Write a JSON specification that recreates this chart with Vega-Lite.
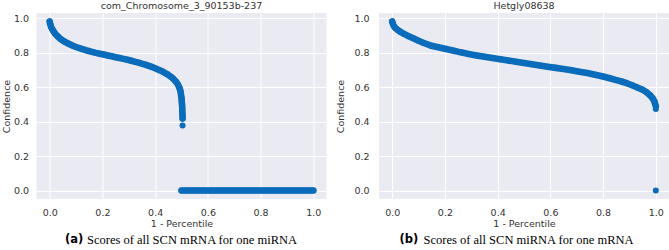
{
  "$schema": "https://vega.github.io/schema/vega-lite/v6.json",
  "padding": {"left": 0.5, "top": 0, "right": 0, "bottom": 0},
  "background": "white",
  "spacing": 52.5,
  "bounds": "flush",
  "config": {
    "view": {"fill": "#EAEAF2", "stroke": null},
    "axis": {"labelFont": "DejaVu Sans", "labelFontSize": 9.5, "labelColor": "#333333", "titleFont": "DejaVu Sans", "titleFontSize": 9.5, "titleFontWeight": "normal", "titleColor": "#333333", "gridColor": "#ffffff", "gridWidth": 1, "gridOpacity": 1, "domain": false, "ticks": false, "tickSize": 0, "labelOverlap": false, "labelBound": false},
    "title": {"font": "DejaVu Sans", "fontSize": 9.5, "fontWeight": "normal", "color": "#333333", "anchor": "middle", "offset": 3}
  },
  "datasets": {
    "a_curve": [
      {"x": 0, "c": 0.98}, {"x": 0.002, "c": 0.965}, {"x": 0.005, "c": 0.95}, {"x": 0.01, "c": 0.935}, {"x": 0.015, "c": 0.922},
      {"x": 0.02, "c": 0.91}, {"x": 0.03, "c": 0.894}, {"x": 0.04, "c": 0.88}, {"x": 0.05, "c": 0.869}, {"x": 0.06, "c": 0.86},
      {"x": 0.07, "c": 0.852}, {"x": 0.08, "c": 0.845}, {"x": 0.09, "c": 0.838}, {"x": 0.1, "c": 0.832}, {"x": 0.115, "c": 0.824},
      {"x": 0.13, "c": 0.817}, {"x": 0.145, "c": 0.81}, {"x": 0.16, "c": 0.804}, {"x": 0.175, "c": 0.798}, {"x": 0.19, "c": 0.793},
      {"x": 0.205, "c": 0.788}, {"x": 0.22, "c": 0.783}, {"x": 0.235, "c": 0.778}, {"x": 0.25, "c": 0.773}, {"x": 0.265, "c": 0.768},
      {"x": 0.28, "c": 0.763}, {"x": 0.295, "c": 0.758}, {"x": 0.31, "c": 0.752}, {"x": 0.325, "c": 0.746}, {"x": 0.34, "c": 0.74},
      {"x": 0.355, "c": 0.733}, {"x": 0.37, "c": 0.726}, {"x": 0.385, "c": 0.718}, {"x": 0.4, "c": 0.709}, {"x": 0.415, "c": 0.699},
      {"x": 0.43, "c": 0.688}, {"x": 0.445, "c": 0.675}, {"x": 0.46, "c": 0.659}, {"x": 0.47, "c": 0.646}, {"x": 0.48, "c": 0.629},
      {"x": 0.487, "c": 0.613}, {"x": 0.492, "c": 0.596}, {"x": 0.496, "c": 0.577}, {"x": 0.498, "c": 0.557}, {"x": 0.5, "c": 0.537},
      {"x": 0.501, "c": 0.517}, {"x": 0.502, "c": 0.497}, {"x": 0.503, "c": 0.477}, {"x": 0.503, "c": 0.457}, {"x": 0.504, "c": 0.437},
      {"x": 0.504, "c": 0.417}
    ],
    "a_iso": [{"x": 0.504, "c": 0.377}],
    "a_zero": [
      {"x": 0.5, "c": 0}, {"x": 0.51, "c": 0}, {"x": 0.52, "c": 0}, {"x": 0.53, "c": 0}, {"x": 0.54, "c": 0},
      {"x": 0.55, "c": 0}, {"x": 0.56, "c": 0}, {"x": 0.57, "c": 0}, {"x": 0.58, "c": 0}, {"x": 0.59, "c": 0},
      {"x": 0.6, "c": 0}, {"x": 0.61, "c": 0}, {"x": 0.62, "c": 0}, {"x": 0.63, "c": 0}, {"x": 0.64, "c": 0},
      {"x": 0.65, "c": 0}, {"x": 0.66, "c": 0}, {"x": 0.67, "c": 0}, {"x": 0.68, "c": 0}, {"x": 0.69, "c": 0},
      {"x": 0.7, "c": 0}, {"x": 0.71, "c": 0}, {"x": 0.72, "c": 0}, {"x": 0.73, "c": 0}, {"x": 0.74, "c": 0},
      {"x": 0.75, "c": 0}, {"x": 0.76, "c": 0}, {"x": 0.77, "c": 0}, {"x": 0.78, "c": 0}, {"x": 0.79, "c": 0},
      {"x": 0.8, "c": 0}, {"x": 0.81, "c": 0}, {"x": 0.82, "c": 0}, {"x": 0.83, "c": 0}, {"x": 0.84, "c": 0},
      {"x": 0.85, "c": 0}, {"x": 0.86, "c": 0}, {"x": 0.87, "c": 0}, {"x": 0.88, "c": 0}, {"x": 0.89, "c": 0},
      {"x": 0.9, "c": 0}, {"x": 0.91, "c": 0}, {"x": 0.92, "c": 0}, {"x": 0.93, "c": 0}, {"x": 0.94, "c": 0},
      {"x": 0.95, "c": 0}, {"x": 0.96, "c": 0}, {"x": 0.97, "c": 0}, {"x": 0.98, "c": 0}, {"x": 0.99, "c": 0},
      {"x": 1.0, "c": 0}
    ],
    "b_curve": [
      {"x": 0, "c": 0.98}, {"x": 0.003, "c": 0.965}, {"x": 0.007, "c": 0.952}, {"x": 0.012, "c": 0.942}, {"x": 0.02, "c": 0.932},
      {"x": 0.03, "c": 0.921}, {"x": 0.045, "c": 0.908}, {"x": 0.06, "c": 0.896}, {"x": 0.08, "c": 0.882}, {"x": 0.1, "c": 0.868},
      {"x": 0.12, "c": 0.855}, {"x": 0.145, "c": 0.841}, {"x": 0.17, "c": 0.832}, {"x": 0.2, "c": 0.822}, {"x": 0.23, "c": 0.812},
      {"x": 0.26, "c": 0.801}, {"x": 0.29, "c": 0.792}, {"x": 0.32, "c": 0.783}, {"x": 0.35, "c": 0.775}, {"x": 0.38, "c": 0.768},
      {"x": 0.41, "c": 0.761}, {"x": 0.44, "c": 0.754}, {"x": 0.47, "c": 0.746}, {"x": 0.5, "c": 0.739}, {"x": 0.53, "c": 0.732},
      {"x": 0.56, "c": 0.725}, {"x": 0.59, "c": 0.718}, {"x": 0.62, "c": 0.711}, {"x": 0.65, "c": 0.704}, {"x": 0.68, "c": 0.697},
      {"x": 0.71, "c": 0.689}, {"x": 0.74, "c": 0.681}, {"x": 0.77, "c": 0.671}, {"x": 0.8, "c": 0.661}, {"x": 0.825, "c": 0.651},
      {"x": 0.85, "c": 0.64}, {"x": 0.87, "c": 0.632}, {"x": 0.89, "c": 0.622}, {"x": 0.91, "c": 0.61}, {"x": 0.93, "c": 0.597},
      {"x": 0.95, "c": 0.584}, {"x": 0.965, "c": 0.57}, {"x": 0.978, "c": 0.552}, {"x": 0.988, "c": 0.535}, {"x": 0.994, "c": 0.518},
      {"x": 0.997, "c": 0.505}, {"x": 1.0, "c": 0.49}
    ],
    "b_iso": [{"x": 1.0, "c": 0.472}],
    "b_zero": [{"x": 1.0, "c": 0}]
  },
  "hconcat": [
    {
      "width": 290,
      "height": 186,
      "title": {"text": "com_Chromosome_3_90153b-237"},
      "layer": [
        {
          "data": {"name": "a_curve"},
          "mark": {"type": "line", "strokeWidth": 6.6, "strokeCap": "round", "strokeJoin": "round", "color": "#0a6cba",
                   "point": {"filled": true, "size": 36, "opacity": 1, "color": "#0a6cba"}},
          "encoding": {
            "x": {"field": "x", "type": "quantitative", "scale": {"domain": [-0.05, 1.05], "nice": false, "zero": false},
                  "axis": {"orient": "bottom", "title": "1 - Percentile", "values": [0, 0.2, 0.4, 0.6, 0.8, 1], "format": ".1f", "labelPadding": 8, "titlePadding": 2, "grid": true}},
            "y": {"field": "c", "type": "quantitative", "scale": {"domain": [-0.049, 1.029], "nice": false, "zero": false},
                  "axis": {"title": "Confidence", "values": [0, 0.2, 0.4, 0.6, 0.8, 1], "tickCount": 6, "format": ".1f", "labelPadding": 8, "titlePadding": 2, "grid": true, "labelOverlap": false}},
            "order": {"field": "c", "sort": "descending"}
          }
        },
        {
          "data": {"name": "a_zero"},
          "mark": {"type": "line", "strokeWidth": 6.6, "strokeCap": "round", "strokeJoin": "round", "color": "#0a6cba",
                   "point": {"filled": true, "size": 36, "opacity": 1, "color": "#0a6cba"}},
          "encoding": {
            "x": {"field": "x", "type": "quantitative", "scale": {"domain": [-0.05, 1.05], "nice": false, "zero": false},
                  "axis": {"orient": "bottom", "title": "Scores of all SCN mRNA for one miRNA", "labels": false, "grid": false, "titleFont": "Liberation Serif", "titleFontSize": 12.5, "titleColor": "#000000", "titleAnchor": "start", "titleAlign": "left", "titleX": 50, "titleY": 40, "titleBaseline": "middle"}},
            "y": {"field": "c", "type": "quantitative", "scale": {"domain": [-0.049, 1.029], "nice": false, "zero": false},
                  "axis": {"title": "Confidence", "values": [0, 0.2, 0.4, 0.6, 0.8, 1], "tickCount": 6, "format": ".1f", "labelPadding": 8, "titlePadding": 2, "grid": true, "labelOverlap": false}}
          }
        },
        {
          "data": {"name": "a_iso"},
          "mark": {"type": "circle", "size": 36, "opacity": 1, "color": "#0a6cba"},
          "encoding": {
            "x": {"field": "x", "type": "quantitative", "scale": {"domain": [-0.05, 1.05], "nice": false, "zero": false},
                  "axis": {"orient": "bottom", "title": "(a)", "labels": false, "grid": false, "titleFont": "DejaVu Sans", "titleFontWeight": "bold", "titleFontSize": 11.5, "titleColor": "#000000", "titleAnchor": "start", "titleAlign": "left", "titleX": 28, "titleY": 40, "titleBaseline": "middle"}},
            "y": {"field": "c", "type": "quantitative", "scale": {"domain": [-0.049, 1.029], "nice": false, "zero": false},
                  "axis": {"title": "Confidence", "values": [0, 0.2, 0.4, 0.6, 0.8, 1], "tickCount": 6, "format": ".1f", "labelPadding": 8, "titlePadding": 2, "grid": true, "labelOverlap": false}}
          }
        }
      ],
      "resolve": {"axis": {"x": "independent"}}
    },
    {
      "width": 290,
      "height": 186,
      "title": {"text": "Hetgly08638"},
      "layer": [
        {
          "data": {"name": "b_curve"},
          "mark": {"type": "line", "strokeWidth": 6.6, "strokeCap": "round", "strokeJoin": "round", "color": "#0a6cba",
                   "point": {"filled": true, "size": 36, "opacity": 1, "color": "#0a6cba"}},
          "encoding": {
            "x": {"field": "x", "type": "quantitative", "scale": {"domain": [-0.05, 1.05], "nice": false, "zero": false},
                  "axis": {"orient": "bottom", "title": "1 - Percentile", "values": [0, 0.2, 0.4, 0.6, 0.8, 1], "format": ".1f", "labelPadding": 8, "titlePadding": 2, "grid": true}},
            "y": {"field": "c", "type": "quantitative", "scale": {"domain": [-0.049, 1.029], "nice": false, "zero": false},
                  "axis": {"title": "Confidence", "values": [0, 0.2, 0.4, 0.6, 0.8, 1], "tickCount": 6, "format": ".1f", "labelPadding": 10, "titlePadding": 8, "grid": true, "labelOverlap": false}},
            "order": {"field": "c", "sort": "descending"}
          }
        },
        {
          "data": {"name": "b_zero"},
          "mark": {"type": "circle", "size": 36, "opacity": 1, "color": "#0a6cba"},
          "encoding": {
            "x": {"field": "x", "type": "quantitative", "scale": {"domain": [-0.05, 1.05], "nice": false, "zero": false},
                  "axis": {"orient": "bottom", "title": "Scores of all SCN miRNA for one mRNA", "labels": false, "grid": false, "titleFont": "Liberation Serif", "titleFontSize": 12.5, "titleColor": "#000000", "titleAnchor": "start", "titleAlign": "left", "titleX": 44, "titleY": 40, "titleBaseline": "middle"}},
            "y": {"field": "c", "type": "quantitative", "scale": {"domain": [-0.049, 1.029], "nice": false, "zero": false},
                  "axis": {"title": "Confidence", "values": [0, 0.2, 0.4, 0.6, 0.8, 1], "tickCount": 6, "format": ".1f", "labelPadding": 10, "titlePadding": 8, "grid": true, "labelOverlap": false}}
          }
        },
        {
          "data": {"name": "b_iso"},
          "mark": {"type": "circle", "size": 36, "opacity": 1, "color": "#0a6cba"},
          "encoding": {
            "x": {"field": "x", "type": "quantitative", "scale": {"domain": [-0.05, 1.05], "nice": false, "zero": false},
                  "axis": {"orient": "bottom", "title": "(b)", "labels": false, "grid": false, "titleFont": "DejaVu Sans", "titleFontWeight": "bold", "titleFontSize": 11.5, "titleColor": "#000000", "titleAnchor": "start", "titleAlign": "left", "titleX": 20, "titleY": 40, "titleBaseline": "middle"}},
            "y": {"field": "c", "type": "quantitative", "scale": {"domain": [-0.049, 1.029], "nice": false, "zero": false},
                  "axis": {"title": "Confidence", "values": [0, 0.2, 0.4, 0.6, 0.8, 1], "tickCount": 6, "format": ".1f", "labelPadding": 10, "titlePadding": 8, "grid": true, "labelOverlap": false}}
          }
        }
      ],
      "resolve": {"axis": {"x": "independent"}}
    }
  ]
}
